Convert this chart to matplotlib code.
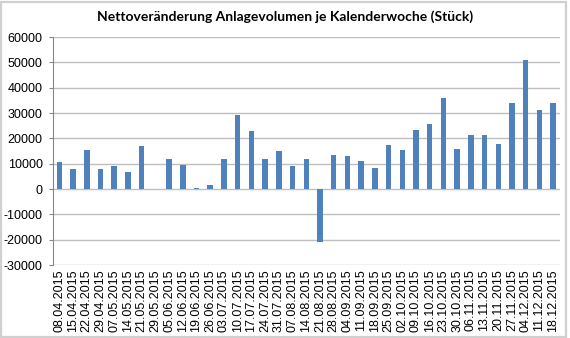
import matplotlib.pyplot as plt
import numpy as np
from matplotlib.patches import Rectangle

# weekly net change, one bar per calendar week
weeks = ["08.04.2015", "15.04.2015", "22.04.2015", "29.04.2015", "07.05.2015",
         "14.05.2015", "21.05.2015", "29.05.2015", "05.06.2015", "12.06.2015",
         "19.06.2015", "26.06.2015", "03.07.2015", "10.07.2015", "17.07.2015",
         "24.07.2015", "31.07.2015", "07.08.2015", "14.08.2015", "21.08.2015",
         "28.08.2015", "04.09.2015", "11.09.2015", "18.09.2015", "25.09.2015",
         "02.10.2015", "09.10.2015", "16.10.2015", "23.10.2015", "30.10.2015",
         "06.11.2015", "13.11.2015", "20.11.2015", "27.11.2015", "04.12.2015",
         "11.12.2015", "18.12.2015"]
net_change = [10500, 7700, 15500, 7800, 9200, 6600, 17100, 0, 12000, 9600,
              500, 1600, 11900, 29400, 22800, 12000, 15000, 9100, 12000, -20900,
              13600, 13000, 11100, 8300, 17300, 15500, 23300, 25700, 36000, 15800,
              21500, 21500, 17800, 34000, 51100, 31200, 34000]
yticks = list(range(-30000, 60001, 10000))

blue = "#4F81BD"
grid = "#BFBFBF"

plt.rcParams["font.family"] = ["Liberation Sans", "DejaVu Sans"]

fig = plt.figure(figsize=(5.70, 3.38), dpi=100)
ax = fig.add_axes([52.5 / 570, 1 - 265 / 338, (560 - 52.5) / 570, (265 - 37) / 338])

x = np.arange(len(weeks))
ax.bar(x, net_change, width=0.4, color=blue, linewidth=0, zorder=3)

ax.set_ylim(-30000, 60000)
ax.set_xlim(-0.5, len(weeks) - 0.5)
ax.set_yticks(yticks)
ax.set_yticklabels([str(v) for v in yticks], fontsize=9)
ax.set_xticks(x)
ax.set_xticklabels(weeks, rotation=90, fontsize=9)

ax.yaxis.grid(True, color=grid, linewidth=1.0, zorder=0)
ax.tick_params(axis="y", length=3, width=0.8, color="#868686", pad=4)
ax.tick_params(axis="x", length=0, pad=3)
for side in ("top", "right", "bottom"):
    ax.spines[side].set_visible(False)
ax.spines["left"].set_color("#868686")
ax.spines["left"].set_linewidth(0.8)

fig.text(0.5, 1 - 17 / 338, "Nettoveränderung Anlagevolumen je Kalenderwoche (Stück)",
         ha="center", va="center", fontsize=10.0, fontweight="bold",
         family=["Lato", "DejaVu Sans"])

# light chart frame
fig.patches.append(Rectangle((1 / 570, 1 / 338), 565 / 570, 335 / 338,
                             transform=fig.transFigure, fill=False,
                             edgecolor="#D0D0D0", linewidth=1.6))

fig.savefig("out.png", dpi=100)
